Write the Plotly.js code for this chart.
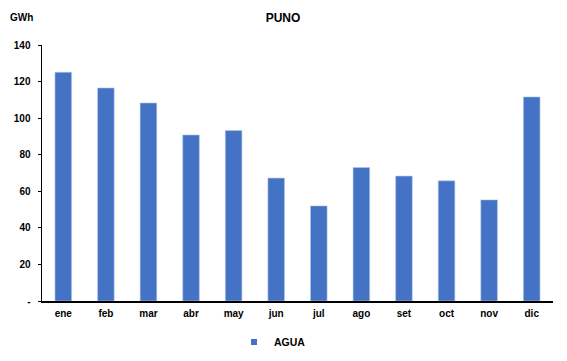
<!DOCTYPE html>
<html><head><meta charset="utf-8">
<script src="https://cdn.plot.ly/plotly-3.0.1.min.js"></script>
<style>body{margin:0;padding:0;background:#fff}#chart{width:567px;height:361px}</style>
</head><body><div id="chart"></div>
<script>
const months = ['ene','feb','mar','abr','may','jun','jul','ago','set','oct','nov','dic'];
const agua = [125.1, 116.5, 108.3, 90.8, 93.2, 67.2, 52.0, 73.0, 68.3, 65.7, 55.3, 111.6];
const yTickVals = [0,20,40,60,80,100,120,140];
const yTickText = ['-','20','40','60','80','100','120','140'];
const seriesName = 'AGUA';
const chartTitle = 'PUNO';
const unitLabel = 'GWh';

const FONT = 'Liberation Sans, Arial, sans-serif';
const BLUE = '#4472C4';
const bars = {
  type: 'bar', x: months, y: agua, name: seriesName, showlegend: false,
  marker: {color: BLUE, line: {color: '#B4C7E7', width: 0.6}},
  hoverinfo: 'skip'
};
// legend entry (small square key as in the original)
const key = {
  type: 'scatter', mode: 'markers', x: [null], y: [null], name: seriesName,
  marker: {symbol: 'square', size: 6, color: BLUE}, showlegend: true, hoverinfo: 'skip'
};
const layout = {
  width: 567, height: 361,
  margin: {l: 42, r: 14, t: 45, b: 60},
  paper_bgcolor: '#fff', plot_bgcolor: '#fff',
  font: {family: FONT, size: 10, color: '#000', weight: 'bold'},
  title: {text: chartTitle, x: 283/567, xanchor: 'center', y: 1 - 17.5/361, yanchor: 'middle',
          font: {family: FONT, size: 12, color: '#000', weight: 'bold'}},
  bargap: 0.61,
  xaxis: {showline: true, linecolor: '#000', linewidth: 1.5, ticks: '', showgrid: false,
          ticklabelstandoff: 2,
          tickfont: {family: FONT, size: 10, weight: 'bold'}, fixedrange: true},
  yaxis: {range: [0, 140], tickvals: yTickVals, ticktext: yTickText, showline: true,
          linecolor: '#000', linewidth: 1.5, ticks: 'outside', ticklen: 3, tickwidth: 1,
          tickcolor: '#000', showgrid: false, zeroline: false, ticklabelstandoff: 5,
          tickfont: {family: FONT, size: 10, weight: 'bold'}, fixedrange: true},
  showlegend: true,
  legend: {orientation: 'h', x: (234-42)/511, xref: 'paper', xanchor: 'left', y: 1 - 342/361, yref: 'container',
           yanchor: 'middle', font: {family: FONT, size: 10.5, weight: 'bold'}},
  annotations: [{text: unitLabel, xref: 'paper', yref: 'paper', x: -34/511, xanchor: 'left',
                 y: 1 + 27.5/256, yanchor: 'middle', showarrow: false,
                 font: {family: FONT, size: 10, color: '#000', weight: 'bold'}}]
};
Plotly.newPlot('chart', [bars, key], layout, {displayModeBar: false, staticPlot: true});
</script></body></html>
